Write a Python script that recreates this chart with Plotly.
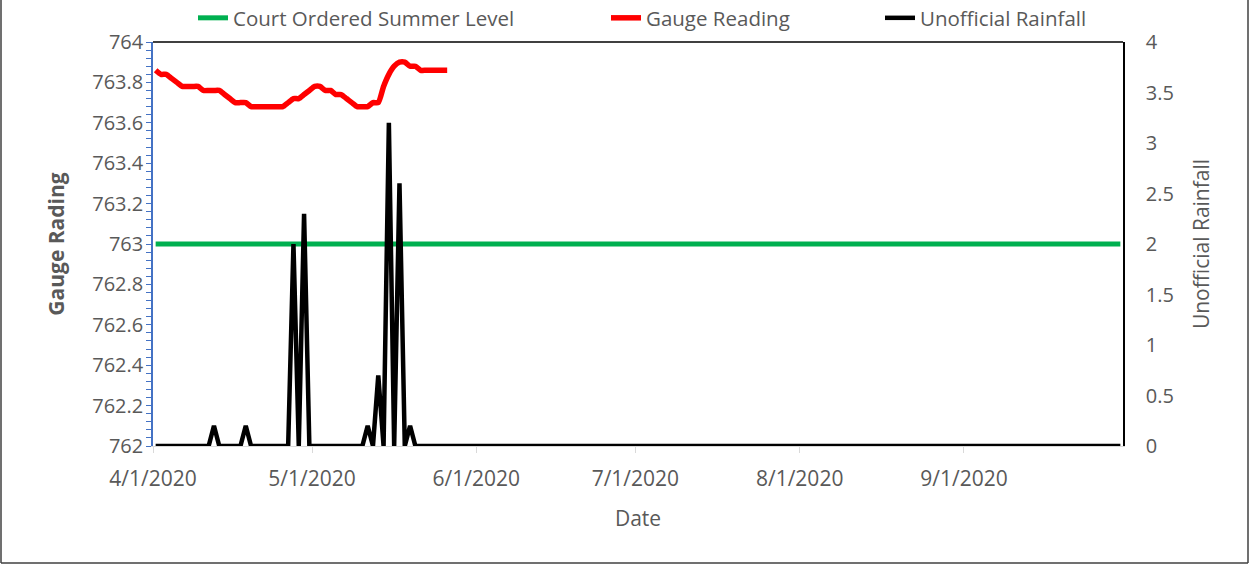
import pandas as pd
import plotly.graph_objects as go

# ---- data ----
start_date = "2020-04-01"
end_date = "2020-09-30"

# daily gauge readings, 4/1/2020 .. 5/26/2020
gauge_values = [
    763.86, 763.84, 763.84, 763.82, 763.80, 763.78, 763.78, 763.78, 763.78, 763.76,
    763.76, 763.76, 763.76, 763.74, 763.72, 763.70, 763.70, 763.70, 763.68, 763.68,
    763.68, 763.68, 763.68, 763.68, 763.68, 763.70, 763.72, 763.72, 763.74, 763.76,
    763.78, 763.78, 763.76, 763.76, 763.74, 763.74, 763.72, 763.70, 763.68, 763.68,
    763.68, 763.70, 763.70, 763.78, 763.84, 763.88, 763.90, 763.90, 763.88, 763.88,
    763.86, 763.86, 763.86, 763.86, 763.86, 763.86,
]

summer_level = 763.0

# days with rain (all other days 0)
rain_dates = ["2020-04-12", "2020-04-18", "2020-04-27", "2020-04-29",
              "2020-05-11", "2020-05-13", "2020-05-15", "2020-05-17", "2020-05-19"]
rain_amounts = [0.2, 0.2, 2.0, 2.3, 0.2, 0.7, 3.2, 2.6, 0.2]

x_ticks = ["2020-04-01", "2020-05-01", "2020-06-01", "2020-07-01", "2020-08-01", "2020-09-01"]
x_tick_labels = ["4/1/2020", "5/1/2020", "6/1/2020", "7/1/2020", "8/1/2020", "9/1/2020"]

# ---- build series (points centred on each day, as in the source chart) ----
days = pd.date_range(start_date, end_date, freq="D")
half = pd.Timedelta(hours=12)
x_all = days + half
rain = pd.Series(0.0, index=days)
rain.loc[pd.to_datetime(rain_dates)] = rain_amounts
x_gauge = days[:len(gauge_values)] + half

FONT = "Open Sans"
GRAY = "#595959"

fig = go.Figure()
fig.add_trace(go.Scatter(
    x=x_all, y=[summer_level] * len(days), mode="lines",
    name="Court Ordered Summer Level",
    line=dict(color="#00B050", width=5), legend="legend",
))
fig.add_trace(go.Scatter(
    x=x_gauge, y=gauge_values, mode="lines", name="Gauge Reading",
    line=dict(color="#FF0000", width=5.5, shape="spline", smoothing=0.6),
    legend="legend2",
))
fig.add_trace(go.Scatter(
    x=x_all, y=rain.values, mode="lines", name="Unofficial Rainfall",
    line=dict(color="#000000", width=4.5), yaxis="y2", legend="legend3",
    cliponaxis=False,
))

W, H = 1250, 565
L, R, T, B = 153, 127, 42, 119
pw, ph = W - L - R, H - T - B

def px(xp):
    return (xp - L) / pw

def py(yp):
    return (H - B - yp) / ph

legend_common = dict(
    orientation="h", yanchor="middle", xanchor="left",
    font=dict(family=FONT, size=20.5, color=GRAY),
    bgcolor="rgba(0,0,0,0)", itemwidth=30,
)

fig.update_layout(
    width=W, height=H,
    margin=dict(l=L, r=R, t=T, b=B, autoexpand=False),
    paper_bgcolor="white", plot_bgcolor="white",
    font=dict(family=FONT, size=20, color=GRAY),
    showlegend=True,
    legend=dict(x=px(193), y=py(18), **legend_common),
    legend2=dict(x=px(606), y=py(18), **legend_common),
    legend3=dict(x=px(880), y=py(18), **legend_common),
    xaxis=dict(
        range=[pd.Timestamp(start_date), pd.Timestamp(end_date) + pd.Timedelta(days=1)],
        tickvals=x_ticks, ticktext=x_tick_labels,
        showgrid=False, zeroline=False,
        showline=True, linecolor="#D9D9D9", linewidth=1,
        ticks="outside", ticklen=6, tickcolor="#D9D9D9", ticklabelstandoff=8,
        tickfont=dict(family=FONT, size=21, color=GRAY),
        title=dict(text="Date", font=dict(family=FONT, size=21, color=GRAY), standoff=20),
    ),
    yaxis=dict(
        range=[762, 764], dtick=0.2, tick0=762,
        showgrid=False, zeroline=False,
        showline=True, linecolor="#4472C4", linewidth=1.5,
        ticks="outside", ticklen=5, tickcolor="#4472C4", ticklabelstandoff=-1,
        minor=dict(dtick=0.04, ticks="outside", ticklen=5, tickcolor="#4472C4"),
        tickfont=dict(family=FONT, size=20, color=GRAY),
        title=dict(text="<b>Gauge Rading</b>", font=dict(family=FONT, size=21, color=GRAY), standoff=22),
    ),
    yaxis2=dict(
        range=[0, 4], dtick=0.5, overlaying="y", side="right",
        showgrid=False, zeroline=False,
        showline=True, linecolor="#000000", linewidth=1.5,
        ticks="", ticklabelstandoff=17,
        tickfont=dict(family=FONT, size=20, color=GRAY),
        title=dict(text="Unofficial Rainfall", font=dict(family=FONT, size=21, color=GRAY), standoff=21),
    ),
    shapes=[
        dict(type="line", xref="paper", yref="paper", x0=0, x1=1, y0=1, y1=1,
             line=dict(color="#000000", width=1.5)),
        dict(type="line", xref="paper", yref="paper", x0=px(1), x1=px(1), y0=py(0), y1=py(563),
             line=dict(color="#404040", width=1.5)),
        dict(type="line", xref="paper", yref="paper", x0=px(1), x1=px(1248), y0=py(563), y1=py(563),
             line=dict(color="#404040", width=1.5)),
        dict(type="line", xref="paper", yref="paper", x0=px(1248), x1=px(1248), y0=py(0), y1=py(563),
             line=dict(color="#404040", width=1.5)),
    ],
)

fig.write_html("out.html", config={"displayModeBar": False},
               post_script="document.body.style.margin='0';")
